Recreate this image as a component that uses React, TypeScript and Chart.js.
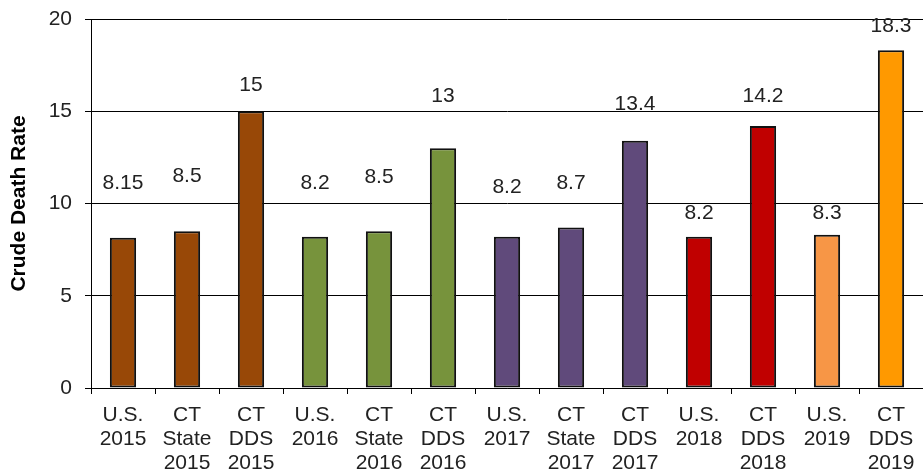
import React, { useEffect, useRef } from "react";
import { Chart, registerables } from "chart.js";

Chart.register(...registerables);

const categories: string[][] = [
  ["U.S.", "2015"],
  ["CT", "State", "2015"],
  ["CT", "DDS", "2015"],
  ["U.S.", "2016"],
  ["CT", "State", "2016"],
  ["CT", "DDS", "2016"],
  ["U.S.", "2017"],
  ["CT", "State", "2017"],
  ["CT", "DDS", "2017"],
  ["U.S.", "2018"],
  ["CT", "DDS", "2018"],
  ["U.S.", "2019"],
  ["CT", "DDS", "2019"],
];

const values: number[] = [8.15, 8.5, 15, 8.2, 8.5, 13, 8.2, 8.7, 13.4, 8.2, 14.2, 8.3, 18.3];
const valueLabels: string[] = ["8.15", "8.5", "15", "8.2", "8.5", "13", "8.2", "8.7", "13.4", "8.2", "14.2", "8.3", "18.3"];
// vertical placement of each value label, in axis units (as placed in the original)
const labelLevels: number[] = [11.1, 11.5, 16.4, 11.1, 11.4, 15.8, 10.9, 11.1, 15.4, 9.5, 15.8, 9.5, 19.6];

const barColors: string[] = [
  "#984807", "#984807", "#984807",
  "#77933C", "#77933C", "#77933C",
  "#604A7B", "#604A7B", "#604A7B",
  "#C00000", "#C00000",
  "#F79646", "#FF9900",
];

const yTicks: number[] = [0, 5, 10, 15, 20];

const FONT = "'Liberation Sans', Arial, sans-serif";

const labelPlugin = {
  id: "valueLabels",
  afterDatasetsDraw(chart: any) {
    const { ctx, scales } = chart;
    const meta = chart.getDatasetMeta(0);
    ctx.save();
    ctx.font = `21px ${FONT}`;
    ctx.fillStyle = "#222";
    ctx.textAlign = "center";
    ctx.textBaseline = "middle";
    meta.data.forEach((bar: any, i: number) => {
      const y = scales.y.getPixelForValue(labelLevels[i]);
      ctx.fillText(valueLabels[i], bar.x, y);
    });
    ctx.restore();
  },
};

export default function App() {
  const ref = useRef<HTMLCanvasElement | null>(null);

  useEffect(() => {
    if (!ref.current) return;
    const chart = new Chart(ref.current, {
      type: "bar",
      data: {
        labels: categories,
        datasets: [
          {
            data: values,
            backgroundColor: barColors,
            borderColor: "#111",
            borderWidth: 2,
            borderSkipped: false,
            barPercentage: 0.41,
            categoryPercentage: 1,
          },
        ],
      },
      options: {
        animation: false,
        responsive: false,
        layout: { padding: { left: 0, top: 19, right: -6, bottom: 0 } },
        plugins: {
          legend: { display: false },
          tooltip: { enabled: false },
        },
        scales: {
          x: {
            grid: {
              display: true,
              offset: true,
              drawOnChartArea: false,
              drawTicks: true,
              tickLength: 6,
              color: "#000",
            },
            border: { display: true, color: "#000", width: 1 },
            ticks: {
              color: "#222",
              font: { family: FONT, size: 21, lineHeight: 1.143 },
              padding: 9,
              maxRotation: 0,
              autoSkip: false,
            },
            afterFit: (scale: any) => {
              scale.height = 83;
              scale.paddingLeft = 0;
              scale.paddingRight = 0;
            },
          },
          y: {
            min: 0,
            max: 20,
            afterBuildTicks: (scale: any) => {
              scale.ticks = yTicks.map((v) => ({ value: v }));
            },
            grid: {
              color: "#000",
              lineWidth: 1,
              drawTicks: true,
              tickLength: 6,
            },
            border: { display: true, color: "#000", width: 1 },
            ticks: {
              color: "#222",
              font: { family: FONT, size: 21 },
              padding: 13,
            },
            title: {
              display: true,
              text: "Crude Death Rate",
              color: "#000",
              font: { family: FONT, size: 21, weight: "bold" },
              padding: { top: 7, bottom: 0 },
            },
            afterFit: (scale: any) => {
              scale.width = 91;
              scale.paddingTop = 0;
              scale.paddingBottom = 0;
            },
          },
        },
      },
      plugins: [labelPlugin],
    });
    return () => chart.destroy();
  }, []);

  return (
    <div style={{ position: "fixed", left: 0, top: 0, width: 923, height: 471, background: "#fff" }}>
      <canvas ref={ref} width={923} height={471} />
    </div>
  );
}
